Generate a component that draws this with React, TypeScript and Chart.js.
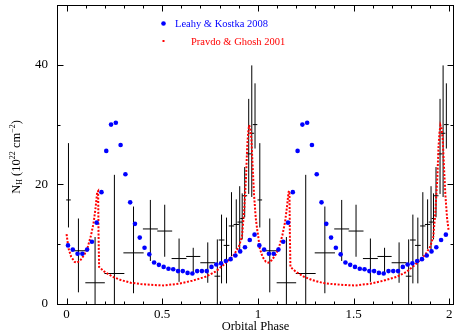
import React, { useEffect, useRef } from "react";
import { Chart, registerables } from "chart.js";
Chart.register(...registerables);

// Leahy & Kostka 2008 (folded, one orbital cycle)
const bluePhases = [0.0075, 0.0325, 0.0575, 0.0825, 0.1075, 0.1325, 0.1575, 0.1825, 0.2075, 0.2325,
  0.2575, 0.2825, 0.3075, 0.3325, 0.3575, 0.3825, 0.4075, 0.4325, 0.4575, 0.4825,
  0.5075, 0.5325, 0.5575, 0.5825, 0.6075, 0.6325, 0.6575, 0.6825, 0.7075, 0.7325,
  0.7575, 0.7825, 0.8075, 0.8325, 0.8575, 0.8825, 0.9075, 0.9325, 0.9575, 0.9825];
const blueValues = [9.8, 9.1, 8.4, 8.4, 9.1, 10.4, 13.6, 18.7, 25.6, 30.0,
  30.3, 26.6, 21.7, 17.0, 13.4, 11.1, 9.4, 8.3, 6.95, 6.55,
  6.2, 5.9, 5.8, 5.5, 5.5, 5.2, 5.1, 5.5, 5.5, 5.5,
  6.2, 6.6, 6.8, 7.2, 7.5, 8.1, 8.8, 9.5, 10.7, 11.6];

// Pravdo & Ghosh 2001 model curve (one cycle)
const redPhases = [0.0, 0.010, 0.024, 0.042, 0.055, 0.073, 0.094, 0.111, 0.128, 0.142,
  0.152, 0.160, 0.165, 0.167, 0.170, 0.198, 0.241, 0.284, 0.336, 0.388,
  0.458, 0.510, 0.588, 0.657, 0.726, 0.778, 0.830, 0.874, 0.900, 0.917,
  0.928, 0.938, 0.944, 0.949, 0.954, 0.960, 0.966, 0.973, 0.980, 0.989, 0.997];
const redValues = [11.7, 9.3, 7.9, 7.05, 6.9, 7.35, 8.3, 9.55, 11.5, 13.7,
  16.2, 18.7, 18.9, 12.0, 6.2, 5.4, 4.55, 4.0, 3.55, 3.33,
  3.17, 3.1, 3.4, 3.9, 4.55, 5.4, 6.8, 8.2, 9.55, 11.3,
  15.6, 21.2, 26.2, 28.6, 29.9, 29.4, 27.6, 22.7, 18.2, 14.3, 12.3];

// Black crosses (phase, phase half-width, NH, lower, upper)
const crossPhase = [0.010, 0.062, 0.149, 0.250, 0.350, 0.438, 0.513, 0.588, 0.662, 0.738,
  0.788, 0.810, 0.836, 0.862, 0.887, 0.905, 0.918, 0.931, 0.952, 0.968, 0.985];
const crossPhaseErr = [0.012, 0.039, 0.051, 0.052, 0.053, 0.039, 0.039, 0.039, 0.037, 0.039,
  0.015, 0.015, 0.015, 0.014, 0.014, 0.012, 0.010, 0.013, 0.012, 0.012, 0.012];
const crossValue = [17.4, 8.9, 3.55, 5.1, 8.55, 12.55, 12.2, 7.6, 7.95, 6.9,
  4.65, 10.7, 9.8, 13.05, 13.3, 13.7, 14.3, 18.1, 25.1, 28.55, 30.0];
const crossLow = [12.8, 1.95, 0, 0, 1.8, 7.2, 7.9, 3.7, 5.1, 3.55,
  0, 3.45, 3.45, 8.0, 9.2, 8.5, 10.8, 14.5, 18.4, 17.9, 26.0];
const crossHigh = [26.9, 14.3, 11.2, 21.6, 16.3, 17.4, 16.6, 10.95, 9.4, 10.3,
  10.8, 14.95, 14.45, 18.7, 17.5, 19.7, 18.5, 22.9, 34.3, 39.9, 36.9];

const cycles = [0, 1];
const xMajorTicks = [0, 0.5, 1, 1.5, 2];
const xMinorTicks = [0.1, 0.2, 0.3, 0.4, 0.6, 0.7, 0.8, 0.9, 1.1, 1.2, 1.3, 1.4, 1.6, 1.7, 1.8, 1.9];
const yMajorTicks = [0, 20, 40];
const yMinorTicks = [10, 30];

const FONT = '"Liberation Serif", "Times New Roman", serif';

const crossPlugin = {
  id: "crosses",
  beforeDatasetsDraw(chart: any) {
    const { ctx, chartArea: a, scales } = chart;
    const xs = scales.x, ys = scales.y;
    ctx.save();
    ctx.beginPath();
    ctx.rect(a.left, a.top, a.right - a.left, a.bottom - a.top);
    ctx.clip();
    ctx.strokeStyle = "#000";
    ctx.lineWidth = 1;
    ctx.beginPath();
    cycles.forEach((c) => {
      crossPhase.forEach((p, i) => {
        const px = xs.getPixelForValue(p + c);
        const x0 = xs.getPixelForValue(p + c - crossPhaseErr[i]);
        const x1 = xs.getPixelForValue(p + c + crossPhaseErr[i]);
        const py = ys.getPixelForValue(crossValue[i]);
        const y0 = ys.getPixelForValue(crossLow[i]);
        const y1 = ys.getPixelForValue(crossHigh[i]);
        ctx.moveTo(x0, py);
        ctx.lineTo(x1, py);
        ctx.moveTo(px, y0);
        ctx.lineTo(px, y1);
      });
    });
    ctx.stroke();
    ctx.restore();
  },
};

const framePlugin = {
  id: "frame",
  afterDraw(chart: any) {
    const { ctx, chartArea: a, scales } = chart;
    const xs = scales.x, ys = scales.y;
    const L = Math.round(a.left) + 0.5, R = Math.round(a.right) - 0.5;
    const T = Math.round(a.top) + 0.5, B = Math.round(a.bottom) + 0.5;
    ctx.save();
    ctx.strokeStyle = "#000";
    ctx.lineWidth = 1;
    ctx.strokeRect(L, T, R - L, B - T);
    ctx.beginPath();
    const xt = (v: number, len: number) => {
      const p = Math.round(xs.getPixelForValue(v)) + 0.5;
      ctx.moveTo(p, B); ctx.lineTo(p, B - len);
      ctx.moveTo(p, T); ctx.lineTo(p, T + len);
    };
    const yt = (v: number, len: number) => {
      const p = Math.round(ys.getPixelForValue(v)) + 0.5;
      ctx.moveTo(L, p); ctx.lineTo(L + len, p);
      ctx.moveTo(R, p); ctx.lineTo(R - len, p);
    };
    xMajorTicks.forEach((v) => xt(v, 6));
    xMinorTicks.forEach((v) => xt(v, 3));
    yMajorTicks.forEach((v) => yt(v, 6));
    yMinorTicks.forEach((v) => yt(v, 3));
    ctx.stroke();

    // legend
    ctx.fillStyle = "#0000ff";
    ctx.beginPath();
    ctx.arc(163.5, 23.5, 2.3, 0, Math.PI * 2);
    ctx.fill();
    ctx.font = `10.5px ${FONT}`;
    ctx.textBaseline = "alphabetic";
    ctx.textAlign = "left";
    ctx.fillText("Leahy & Kostka 2008", 175, 26.5);
    ctx.fillStyle = "#ff0000";
    ctx.fillRect(162.5, 40, 2, 2);
    ctx.fillText("Pravdo & Ghosh 2001", 191, 44.5);

    // y title with sub/superscripts
    const parts = [
      { t: "N", s: 12.5, dy: 0 },
      { t: "H", s: 8, dy: 2.5 },
      { t: " (10", s: 12.5, dy: 0 },
      { t: "22", s: 8, dy: -5 },
      { t: " cm", s: 12.5, dy: 0 },
      { t: "\u22122", s: 8, dy: -5 },
      { t: ")", s: 12.5, dy: 0 },
    ];
    let total = 0;
    parts.forEach((p) => {
      ctx.font = `${p.s}px ${FONT}`;
      total += ctx.measureText(p.t).width;
    });
    ctx.translate(19.5, 157);
    ctx.rotate(-Math.PI / 2);
    ctx.fillStyle = "#000";
    let xx = -total / 2;
    parts.forEach((p) => {
      ctx.font = `${p.s}px ${FONT}`;
      ctx.fillText(p.t, xx, p.dy);
      xx += ctx.measureText(p.t).width;
    });
    ctx.restore();
  },
};

export default function App() {
  const ref = useRef<HTMLCanvasElement | null>(null);
  useEffect(() => {
    document.body.style.margin = "0";
    document.body.style.overflow = "hidden";
    const blueData: { x: number; y: number }[] = [];
    const redData: { x: number; y: number }[] = [];
    cycles.forEach((c) => {
      bluePhases.forEach((p, i) => blueData.push({ x: p + c, y: blueValues[i] }));
      redPhases.forEach((p, i) => redData.push({ x: p + c, y: redValues[i] }));
    });
    const chart = new Chart(ref.current as HTMLCanvasElement, {
      type: "scatter",
      data: {
        datasets: [
          {
            label: "Leahy & Kostka 2008",
            data: blueData,
            pointRadius: 2.3,
            pointBackgroundColor: "#0000ff",
            pointBorderWidth: 0,
            showLine: false,
          },
          {
            label: "Pravdo & Ghosh 2001",
            data: redData,
            showLine: true,
            borderColor: "#ff0000",
            borderWidth: 2,
            borderDash: [2, 1.6],
            pointRadius: 0,
            tension: 0,
          } as any,
        ],
      },
      options: {
        animation: false,
        responsive: false,
        devicePixelRatio: 1,
        layout: { padding: { left: 0, top: 5, right: 1.5, bottom: 0 } },
        plugins: { legend: { display: false }, tooltip: { enabled: false } },
        scales: {
          x: {
            type: "linear",
            min: -0.05,
            max: 2.025,
            grid: { display: false, drawTicks: false },
            border: { display: false },
            afterBuildTicks: (s: any) => {
              s.ticks = xMajorTicks.map((v) => ({ value: v }));
            },
            afterFit: (s: any) => {
              s.height = 31;
              s.paddingLeft = 0;
              s.paddingRight = 0;
              s.paddingTop = 0;
              s.paddingBottom = 0;
            },
            ticks: {
              color: "#000",
              padding: 3,
              font: { family: FONT, size: 13 },
              callback: (v: any) => String(v),
            },
            title: {
              display: true,
              text: "Orbital Phase",
              color: "#000",
              font: { family: FONT, size: 12.5 },
              padding: { top: 0, bottom: 1 },
            },
          },
          y: {
            type: "linear",
            min: 0,
            max: 50,
            grid: { display: false, drawTicks: false },
            border: { display: false },
            afterBuildTicks: (s: any) => {
              s.ticks = yMajorTicks.map((v) => ({ value: v }));
            },
            afterFit: (s: any) => {
              s.width = 57;
              s.paddingLeft = 0;
              s.paddingRight = 0;
              s.paddingTop = 0;
              s.paddingBottom = 0;
            },
            ticks: {
              color: "#000",
              padding: 9,
              font: { family: FONT, size: 13 },
              callback: (v: any) => String(v),
            },
          },
        },
      },
      plugins: [crossPlugin, framePlugin],
    });
    return () => chart.destroy();
  }, []);
  return (
    <div style={{ width: 458, height: 335 }}>
      <canvas ref={ref} width={458} height={335} />
    </div>
  );
}
